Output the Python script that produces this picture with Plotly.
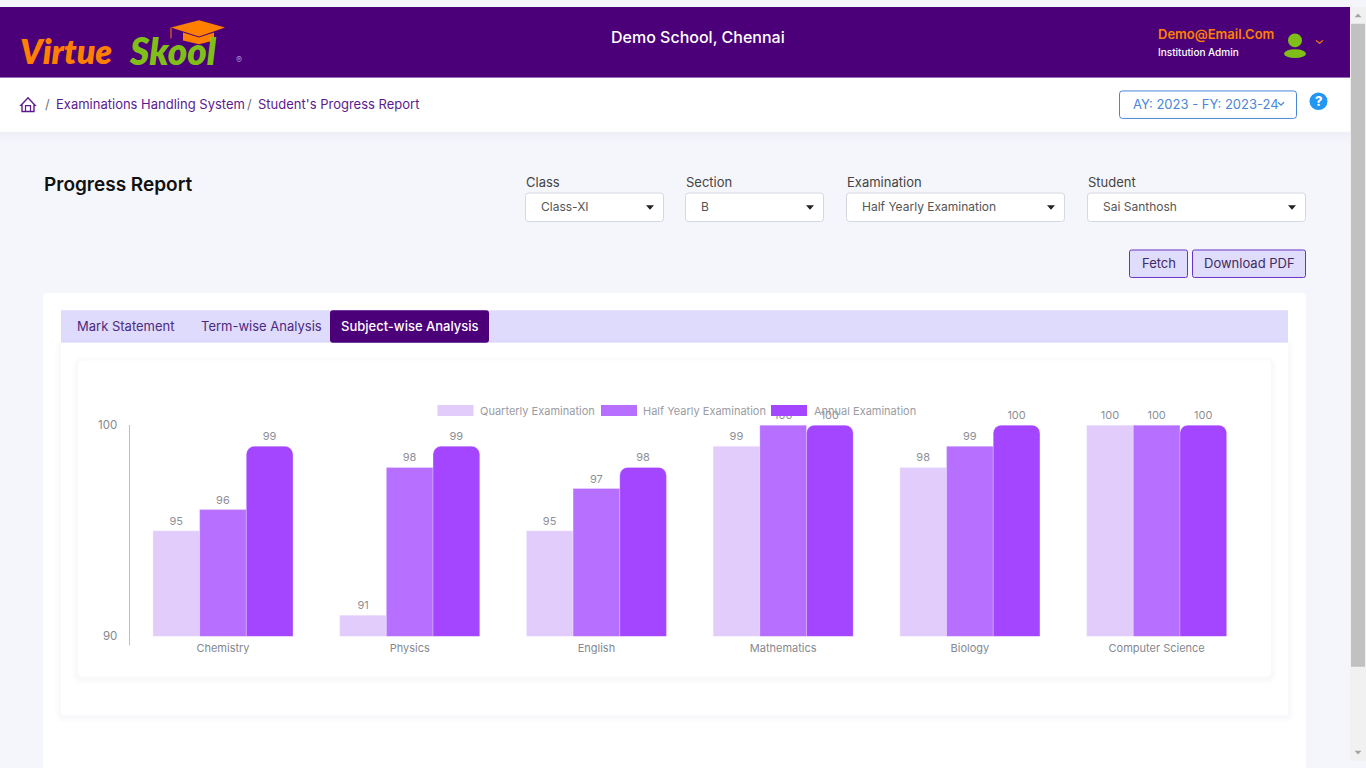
import plotly.graph_objects as go

# chart data
subjects = ["Chemistry", "Physics", "English", "Mathematics", "Biology", "Computer Science"]
quarterly = [95, 91, 95, 99, 98, 100]
half_yearly = [96, 98, 97, 100, 99, 100]
annual = [99, 99, 98, 100, 100, 100]
exam_names = ["Quarterly Examination", "Half Yearly Examination", "Annual Examination"]
exam_colors = ["#e2ccfb", "#b76fff", "#a445ff"]
y_ticks = [90, 100]

W, H = 1366, 768
FONT = "Inter"
shapes = []
notes = []


def px(x):
    return x / W


def py(y):
    return 1 - y / H


def rect(x0, y0, x1, y1, fill, line=None, r=0, width=1, layer="below"):
    # rounded box drawn in page pixels
    p = (f"M{px(x0 + r)},{py(y0)} L{px(x1 - r)},{py(y0)} Q{px(x1)},{py(y0)} {px(x1)},{py(y0 + r)} "
         f"L{px(x1)},{py(y1 - r)} Q{px(x1)},{py(y1)} {px(x1 - r)},{py(y1)} "
         f"L{px(x0 + r)},{py(y1)} Q{px(x0)},{py(y1)} {px(x0)},{py(y1 - r)} "
         f"L{px(x0)},{py(y0 + r)} Q{px(x0)},{py(y0)} {px(x0 + r)},{py(y0)} Z")
    shapes.append(dict(type="path", xref="paper", yref="paper", path=p, fillcolor=fill, layer=layer,
                       line=dict(color=line or "rgba(0,0,0,0)", width=width if line else 0)))


def poly(points, fill=None, line=None, width=1, close=True, layer="above"):
    p = "M" + " L".join(f"{px(x)},{py(y)}" for x, y in points) + (" Z" if close else "")
    shapes.append(dict(type="path", xref="paper", yref="paper", path=p, layer=layer,
                       fillcolor=fill or "rgba(0,0,0,0)",
                       line=dict(color=line or "rgba(0,0,0,0)", width=width if line else 0)))


def oval(x0, y0, x1, y1, fill, layer="above"):
    shapes.append(dict(type="circle", xref="paper", yref="paper", x0=px(x0), x1=px(x1), y0=py(y0), y1=py(y1),
                       fillcolor=fill, line=dict(width=0), layer=layer))


def text(x, y, s, size=13, color="#333333", anchor="left", weight=400, style="normal", family=FONT):
    notes.append(dict(x=px(x), y=py(y), xref="paper", yref="paper", text=s, showarrow=False,
                      xanchor=anchor, yanchor="middle", borderpad=0,
                      font=dict(size=size, color=color, family=family, weight=weight, style=style)))


def shadow(x0, y0, x1, y1, r=4):
    for grow, alpha in [(6, 0.006), (4, 0.008), (2, 0.012)]:
        rect(x0 - grow, y0 - grow + 2, x1 + grow, y1 + grow + 2, f"rgba(60,60,90,{alpha})", r=r + grow)


def caret(cx, cy):
    poly([(cx - 4, cy - 2), (cx + 4, cy - 2), (cx, cy + 2.5)], fill="#222222")


# header bar
rect(0, 0, 1350, 72, "#4b0079")
poly([(199, 13.5), (225, 21), (199, 30), (171, 21)], fill="#ff8000")
poly([(183, 26), (199, 31), (214, 26), (214, 34), (199, 38), (183, 34)], fill="#ff8000")
poly([(171, 21), (171, 32)], line="#ff8000", close=False)
text(19, 44, "Virtue", 34, "#ff8000", weight=800, style="italic", family="Lato")
text(128, 44, "Skool", 37, "#7fbf17", weight=800, style="italic", family="Lato")
text(235, 53, "®", 9, "#b08fd0")
text(698, 31, "Demo School, Chennai", 16, "#ffffff", "center", 500)
text(1157, 28, "Demo@Email.Com", 13, "#ff8000", weight=600)
text(1157, 46, "Institution Admin", 10, "#ffffff", weight=500)
oval(1288, 27, 1302, 41, "#7fbf17")
oval(1284, 43, 1306, 52, "#7fbf17")
poly([(1316, 34), (1319.5, 37), (1323, 34)], line="#ff8000", width=1.2, close=False)

# breadcrumb bar
for grow, alpha in [(10, 0.006), (6, 0.008), (3, 0.012)]:
    rect(0, 72, 1350, 127 + grow, f"rgba(60,60,90,{alpha})")
rect(0, 72, 1350, 127, "#ffffff")
poly([(21, 100), (28, 92.5), (35, 100), (34, 100), (34, 106.5), (22, 106.5), (22, 100)], line="#5c1a8f", width=1.4)
poly([(25.5, 106.5), (25.5, 100.5), (30.5, 100.5), (30.5, 106.5)], line="#5c1a8f", width=1.2, close=False)
text(44, 98.5, "/", 13, "#6c757d")
text(55, 98.5, "Examinations Handling System", 13, "#5c1a8f")
text(246, 98.5, "/", 13, "#6c757d")
text(257, 98.5, "Student's Progress Report", 13, "#5c1a8f")
rect(1119.5, 85.5, 1296.5, 113.5, "#ffffff", "#4a86d8", r=3)
text(1132, 98.5, "AY: 2023 - FY: 2023-24", 13, "#4a86d8")
poly([(1278, 97), (1281, 100), (1284, 97)], line="#4a86d8", width=1.2, close=False)
oval(1309.5, 87, 1327.5, 105, "#2196f3")
text(1318.5, 96, "?", 13, "#ffffff", "center", 800)

# filter row
text(43, 180.5, "Progress Report", 19, "#111111", weight=600)
filters = [(525, 664, "Class", "Class-XI"), (685, 824, "Section", "B"),
           (846, 1065, "Examination", "Half Yearly Examination"), (1087, 1306, "Student", "Sai Santhosh")]
for x0, x1, label, value in filters:
    text(x0, 178.5, label, 13, "#444444")
    rect(x0 + 0.5, 189.5, x1 - 0.5, 218.5, "#ffffff", "#d5d8e0", r=3)
    text(x0 + 15, 203, value, 12, "#555555")
    caret(x1 - 14, 204)
for x0, x1, label in [(1129, 1188, "Fetch"), (1192, 1306, "Download PDF")]:
    rect(x0 + 0.5, 247.5, x1 - 0.5, 275.5, "#e0dcfc", "#6a35c4", r=2)
    text((x0 + x1) / 2, 260.5, label, 13, "#3f2a63", "center")

# cards and tabs
rect(43, 291, 1306, 790, "#ffffff", r=5)
rect(61, 309, 1288, 342, "#dfdbfd")
shadow(61, 342, 1288, 721, 3)
rect(61, 342, 1288, 721, "#ffffff")
rect(330, 309, 489, 342, "#4b0079", r=3)
text(76, 324.5, "Mark Statement", 13, "#4b2a80")
text(200, 324.5, "Term-wise Analysis", 13, "#4b2a80")
text(409.5, 324.5, "Subject-wise Analysis", 13, "#ffffff", "center", 500)
shadow(78, 360, 1271, 682, 5)
rect(78, 360, 1271, 682, "#ffffff", r=5)

# hand-drawn legend, the chart has wide swatches
legend_x = [(437.5, 478.5), (601, 642), (771, 812.5)]
for (sx, tx), name, color in zip(legend_x, exam_names, exam_colors):
    rect(sx, 405.5, sx + 36, 416.5, color, layer="above")
    text(tx, 411, name, 11, "#9a9ca3")

# axis line runs on below the 90 tick
poly([(129.5, 641), (129.5, 650)], line="#bdbdbd", close=False)

# scrollbar
rect(1350, 0, 1366, 768, "#f1f1f1", layer="above")
rect(1351, 17, 1365, 672, "#c1c1c1", layer="above")
poly([(1354.5, 10.5), (1361.5, 10.5), (1358, 6.5)], fill="#a3a3a3")
poly([(1354.5, 757.5), (1361.5, 757.5), (1358, 761.5)], fill="#a3a3a3")

fig = go.Figure()
for name, values, color in zip(exam_names, [quarterly, half_yearly, annual], exam_colors):
    fig.add_trace(go.Bar(
        name=name, x=subjects, y=values, text=values, textposition="outside",
        textfont=dict(size=11, color="#8d8f96", family=FONT), constraintext="none",
        cliponaxis=False, showlegend=False,
        marker=dict(color=color, cornerradius=8 if name == "Annual Examination" else 0,
                    line=dict(width=0.5, color="rgba(255,255,255,0.5)")),
    ))

fig.update_layout(
    width=W, height=H, margin=dict(l=0, r=0, t=0, b=0, pad=0), autosize=False,
    paper_bgcolor="#f5f6fb", plot_bgcolor="rgba(0,0,0,0)",
    barmode="group", bargap=0.25, bargroupgap=0,
    shapes=shapes, annotations=notes, font=dict(family=FONT),
    xaxis=dict(domain=[px(129.6), px(1250)], showgrid=False, zeroline=False, showline=False, ticks="",
               tickfont=dict(size=11, color="#85888f"), ticklabelstandoff=4, fixedrange=True),
    yaxis=dict(domain=[py(641), py(425.5)], range=[90, 100.02], tickvals=y_ticks, showgrid=False,
               zeroline=False, showline=True, linecolor="#bdbdbd", linewidth=1, ticks="",
               tickfont=dict(size=11.5, color="#85888f"), ticklabelstandoff=9, fixedrange=True),
)

fig.write_html("out.html", config={"displayModeBar": False},
               post_script="document.body.style.margin='0';document.body.style.overflow='hidden';")
